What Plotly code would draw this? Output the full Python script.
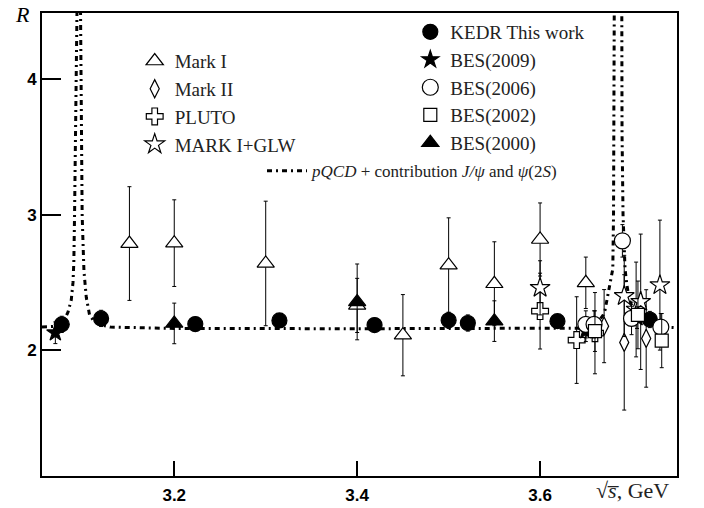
import plotly.graph_objects as go

# ---------------- data ----------------
# KEDR This work
kedr_s = [3.077, 3.120, 3.223, 3.315, 3.419, 3.500, 3.521, 3.619, 3.720]
kedr_r = [2.190, 2.234, 2.192, 2.219, 2.185, 2.220, 2.200, 2.214, 2.226]
kedr_e = [0.06, 0.06, 0.05, 0.05, 0.05, 0.06, 0.06, 0.05, 0.06]

# Mark I
mk1_s = [3.151, 3.200, 3.300, 3.400, 3.450, 3.500, 3.550, 3.600, 3.650]
mk1_r = [2.787, 2.790, 2.640, 2.330, 2.110, 2.627, 2.490, 2.817, 2.497]
mk1_e = [0.42, 0.32, 0.46, 0.20, 0.30, 0.35, 0.31, 0.27, 0.19]

# Mark II
mk2_s = [3.670, 3.692, 3.716]
mk2_r = [2.177, 2.057, 2.086]
mk2_e = [0.27, 0.50, 0.36]

# PLUTO
pluto_s = [3.600, 3.640, 3.660]
pluto_r = [2.288, 2.074, 2.125]
pluto_e = [0.28, 0.32, 0.30]

# MARK I+GLW
glw_s = [3.600, 3.692, 3.705, 3.710, 3.731]
glw_r = [2.460, 2.400, 2.300, 2.357, 2.480]
glw_e = [0.20, 0.30, 0.35, 0.50, 0.48]

# BES(2009)
b09_s = [3.070, 3.650, 3.706]
b09_r = [2.128, 2.143, 2.240]
b09_e = [0.08, 0.08, 0.08]

# BES(2006)
b06_s = [3.650, 3.659, 3.690, 3.700, 3.732]
b06_r = [2.190, 2.190, 2.807, 2.234, 2.170]
b06_e = [0.10, 0.10, 0.12, 0.12, 0.10]

# BES(2002)
b02_s = [3.660, 3.707, 3.733]
b02_r = [2.140, 2.260, 2.070]
b02_e = [0.15, 0.25, 0.20]

# BES(2000)
b00_s = [3.200, 3.400, 3.550]
b00_r = [2.197, 2.356, 2.214]
b00_e = [0.15, 0.28, 0.15]

# pQCD + J/psi and psi(2S) contribution
qcd_s = [3.0554, 3.0699, 3.0754, 3.0798, 3.0838, 3.0874, 3.0893, 3.0902, 3.0910,
         3.0920, 3.0932, 3.0940, 3.0973, 3.0980, 3.0988, 3.0993, 3.1005, 3.1013,
         3.1038, 3.1074, 3.1126, 3.1202, 3.1301, 3.2000, 3.4000, 3.6000, 3.6400,
         3.6600, 3.6691, 3.6710, 3.6746, 3.6783, 3.6795, 3.6803, 3.6809, 3.6812,
         3.6893, 3.6896, 3.6907, 3.6929, 3.6947, 3.6976, 3.7020, 3.7100, 3.7200,
         3.7350, 3.7500]
qcd_r = [2.170, 2.175, 2.190, 2.220, 2.280, 2.370, 2.500, 2.650, 3.000,
         3.600, 4.200, 4.700, 4.700, 4.200, 3.600, 3.000, 2.740, 2.580,
         2.390, 2.260, 2.210, 2.185, 2.170, 2.160, 2.158, 2.158, 2.162,
         2.175, 2.260, 2.295, 2.420, 2.540, 2.600, 3.000, 3.600, 4.700,
         4.700, 3.600, 3.000, 2.600, 2.490, 2.370, 2.300, 2.230, 2.190,
         2.170, 2.165]

x_ticks = [3.2, 3.4, 3.6]
y_ticks = [2, 3, 4]

# ---------------- figure ----------------
SERIF = "Liberation Serif"
fig = go.Figure()

fig.add_trace(go.Scatter(
    x=qcd_s, y=qcd_r, mode="lines",
    line=dict(color="black", width=3, dash="5px,4px,2px,4px"),
    name="<i>pQCD</i> + contribution <i>J/ψ</i> and <i>ψ</i>(2<i>S</i>)",
    legend="legend3", hoverinfo="skip"))


def add_series(xs, ys, es, name, symbol, size, legend, filled=False, lw=1.2):
    fig.add_trace(go.Scatter(
        x=xs, y=ys, mode="markers", name=name, legend=legend,
        error_y=dict(type="data", array=es, visible=True, color="black",
                     thickness=1, width=2),
        marker=dict(symbol=symbol, size=size,
                    color="black" if filled else "white",
                    line=dict(color="black", width=lw))))


add_series(mk1_s, mk1_r, mk1_e, "Mark I", "triangle-up", 15, "legend")
add_series(mk2_s, mk2_r, mk2_e, "Mark II", "diamond-tall", 13, "legend")
add_series(pluto_s, pluto_r, pluto_e, "PLUTO", "cross", 14, "legend")
add_series(glw_s, glw_r, glw_e, "MARK I+GLW", "star", 15, "legend")

add_series(kedr_s, kedr_r, kedr_e, "KEDR This work", "circle", 15, "legend2", filled=True)
add_series(b09_s, b09_r, b09_e, "BES(2009)", "star", 13, "legend2", filled=True)
add_series(b06_s, b06_r, b06_e, "BES(2006)", "circle", 16, "legend2")
add_series(b02_s, b02_r, b02_e, "BES(2002)", "square", 13, "legend2")
add_series(b00_s, b00_r, b00_e, "BES(2000)", "triangle-up", 15, "legend2", filled=True)

legend_font = dict(family=SERIF, size=19, color="#222")
fig.update_layout(
    width=704, height=508,
    margin=dict(l=42, r=27, t=13, b=32),
    paper_bgcolor="white", plot_bgcolor="white",
    showlegend=True,
    legend=dict(x=0.146, y=0.937, xanchor="left", yanchor="top",
                font=legend_font, bgcolor="rgba(0,0,0,0)", traceorder="normal"),
    legend2=dict(x=0.58, y=1.0, xanchor="left", yanchor="top",
                 font=legend_font, bgcolor="rgba(0,0,0,0)", traceorder="normal"),
    legend3=dict(x=0.3465, y=0.697, xanchor="left", yanchor="top",
                 font=dict(family=SERIF, size=17, color="#222"),
                 bgcolor="rgba(0,0,0,0)", itemwidth=40),
    xaxis=dict(range=[3.0554, 3.7497], tickvals=x_ticks,
               ticktext=[f"{v:.1f}" for v in x_ticks],
               ticks="inside", ticklen=15, tickwidth=1.5, tickcolor="black",
               showline=True, linecolor="black", linewidth=2, mirror=True,
               showgrid=False, zeroline=False, ticklabelstandoff=3,
               automargin=False,
               tickfont=dict(family="Liberation Sans", size=17, color="black", weight="bold")),
    yaxis=dict(range=[1.07, 4.49], tickvals=y_ticks,
               ticktext=[str(v) for v in y_ticks],
               ticks="inside", ticklen=19, tickwidth=1.5, tickcolor="black",
               showline=True, linecolor="black", linewidth=2, mirror=True,
               showgrid=False, zeroline=False, automargin=False,
               tickfont=dict(family="Liberation Sans", size=17, color="black", weight="bold")),
    annotations=[
        dict(text="<i>R</i>", xref="paper", yref="paper", x=-0.03, y=0.996,
             xanchor="center", yanchor="middle", showarrow=False,
             font=dict(family=SERIF, size=22, color="black")),
        dict(text="√<i>s\u0305</i>, GeV",
             xref="paper", yref="paper", x=0.9307, y=-0.032,
             xanchor="center", yanchor="middle", showarrow=False,
             font=dict(family=SERIF, size=22, color="#222")),
    ],
)

fig.write_html("out.html")
